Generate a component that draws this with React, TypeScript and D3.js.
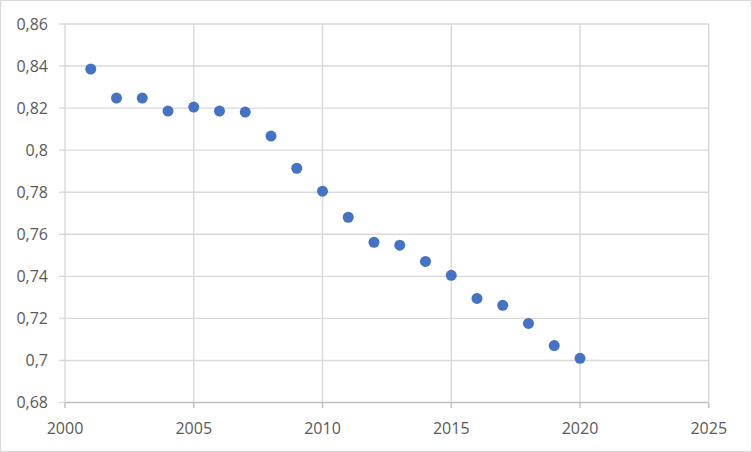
import React from "react";
import * as d3 from "d3";

const years = [2001, 2002, 2003, 2004, 2005, 2006, 2007, 2008, 2009, 2010, 2011, 2012, 2013, 2014, 2015, 2016, 2017, 2018, 2019, 2020];
const values = [0.8386, 0.8248, 0.8248, 0.8186, 0.8205, 0.8186, 0.8181, 0.8067, 0.7914, 0.7805, 0.7681, 0.7562, 0.7548, 0.7471, 0.7405, 0.7295, 0.7262, 0.7176, 0.7071, 0.701];
const xTicks = [2000, 2005, 2010, 2015, 2020, 2025];
const yTicks = [0.68, 0.7, 0.72, 0.74, 0.76, 0.78, 0.8, 0.82, 0.84, 0.86];

const W = 752;
const H = 452;
const left = 65;
const right = 708.75;
const top = 24;
const bottom = 402.5;

export default function App() {
  const x = d3.scaleLinear().domain([2000, 2025]).range([left, right]);
  const y = d3.scaleLinear().domain([0.68, 0.86]).range([bottom, top]);
  const fmt = (v: number) => String(+v.toFixed(2)).replace(".", ",");
  const font = "'Open Sans', 'Liberation Sans', Arial, sans-serif";
  const grid = "#d9d9d9";
  return (
    <svg width={W} height={H} style={{ position: "absolute", left: 0, top: 0, display: "block", background: "#fff" }}>
      <rect x={0.5} y={0.5} width={W - 1} height={H - 1} fill="#fff" stroke={grid} strokeWidth={1.3} />
      {yTicks.map((t) => (
        <g key={"y" + t}>
          {t !== 0.68 && <line x1={left} x2={right} y1={y(t)} y2={y(t)} stroke={grid} strokeWidth={1.4} />}
          <line x1={left - 6} x2={left} y1={y(t)} y2={y(t)} stroke={grid} strokeWidth={1.4} />
          <text x={48} y={y(t) + 5.7} textAnchor="end" fontFamily={font} fontSize={16} fill="#595959">{fmt(t)}</text>
        </g>
      ))}
      {xTicks.map((t) => (
        <g key={"x" + t}>
          <line x1={x(t)} x2={x(t)} y1={top} y2={bottom} stroke={grid} strokeWidth={1.4} />
          <line x1={x(t)} x2={x(t)} y1={bottom} y2={bottom + 5.5} stroke="#bfbfbf" strokeWidth={1.4} />
          <text x={x(t)} y={433.5} textAnchor="middle" fontFamily={font} fontSize={16} fill="#595959">{t}</text>
        </g>
      ))}
      <line x1={left} x2={right} y1={bottom} y2={bottom} stroke="#bfbfbf" strokeWidth={1.4} />
      {years.map((yr, i) => (
        <circle key={yr} cx={x(yr)} cy={y(values[i])} r={5.5} fill="#4472c4" />
      ))}
    </svg>
  );
}
